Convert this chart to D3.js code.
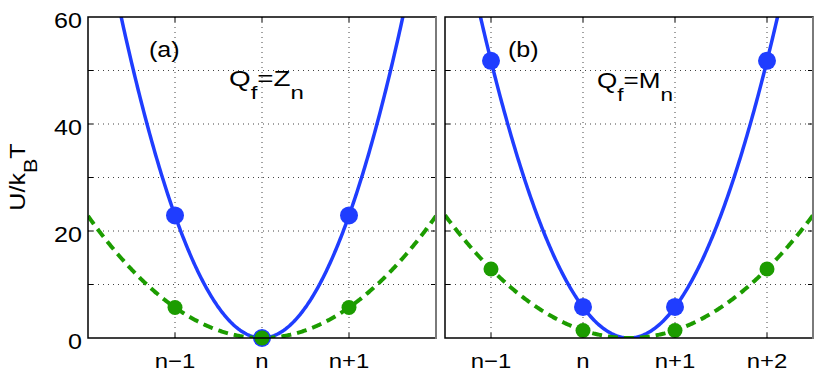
<!DOCTYPE html>
<html>
<head>
<meta charset="utf-8">
<script src="https://cdn.jsdelivr.net/npm/d3@7"></script>
<style>
  body { margin: 0; background: #fff; }
  svg text { font-family: "Liberation Sans", Arial, sans-serif; fill: #000; }
  .grid line { stroke: #444; stroke-width: 1; stroke-dasharray: 1,4; }
</style>
</head>
<body>
<div id="chart"></div>
<script>
// panel (a): Q_f = Z_n
var ticksA = [-1, 0, 1];
var labelsA = ["n\u22121", "n", "n+1"];
var blueA = [22.9, 0, 22.9];
var greenA = [5.7, 0, 5.7];
var centerA = 0;

// panel (b): Q_f = M_n
var ticksB = [-1, 0, 1, 2];
var labelsB = ["n\u22121", "n", "n+1", "n+2"];
var blueB = [51.8, 5.8, 5.8, 51.8];
var greenB = [12.9, 1.4, 1.4, 12.9];
var centerB = 0.5;

var yTicks = [0, 20, 40, 60];
var yGrid = [10, 20, 30, 40, 50];

var blue = "#1f3dff", green = "#1c9c00";
var stretch = 1.14; // the original text is a bit wider than Liberation Sans

const svg = d3.select("#chart").append("svg")
    .attr("width", 830).attr("height", 379);

const plotTop = 17, plotBottom = 338;
const y = d3.scaleLinear().domain([0, 60]).range([plotBottom, plotTop]);

// put text at (x, y) and widen it horizontally around its anchor
function place(sel, fx, fy) {
    sel.attr("transform", function (d, i) {
        return "translate(" + fx(d, i) + "," + fy(d, i) + ") scale(" + stretch + ",1)";
    });
}

// subscripted label like Q_f=Z_n, fitted to a given width
function subText(parent, parts, x0, base, width, size, subSize, drop) {
    const t = parent.append("text").attr("font-size", size);
    var down = false;
    parts.forEach(function (p) {
        var s = t.append("tspan").text(p[0]);
        if (p[1] && !down) { s.attr("dy", drop).attr("font-size", subSize); down = true; }
        else if (p[1]) { s.attr("font-size", subSize); }
        else if (down) { s.attr("dy", -drop); down = false; }
    });
    const w = t.node().getBBox().width;
    t.attr("transform", "translate(" + x0 + "," + base + ") scale(" + (width / w) + ",1)");
    return t;
}

function drawPanel(id, left, right, xDomain, ticks, labels, blueVals, greenVals, center, tag, tagX, qParts, qX, qY, qW, showY) {
    const x = d3.scaleLinear().domain(xDomain).range([left, right]);
    const g = svg.append("g");

    g.append("clipPath").attr("id", "clip-" + id)
        .append("rect").attr("x", left).attr("y", plotTop)
        .attr("width", right - left).attr("height", plotBottom - plotTop);

    // grid
    const grid = g.append("g").attr("class", "grid");
    grid.selectAll(".h").data(yGrid).enter().append("line")
        .attr("x1", left).attr("x2", right)
        .attr("y1", d => y(d)).attr("y2", d => y(d));
    grid.selectAll(".v").data(ticks).enter().append("line")
        .attr("x1", d => x(d)).attr("x2", d => x(d))
        .attr("y1", plotTop).attr("y2", plotBottom);

    // small inward ticks
    const tk = g.append("g").attr("stroke", "#000").attr("stroke-width", 1);
    yGrid.forEach(function (v) {
        tk.append("line").attr("x1", left).attr("x2", left + 5).attr("y1", y(v)).attr("y2", y(v));
        tk.append("line").attr("x1", right - 5).attr("x2", right).attr("y1", y(v)).attr("y2", y(v));
    });
    ticks.forEach(function (v) {
        tk.append("line").attr("x1", x(v)).attr("x2", x(v)).attr("y1", plotBottom).attr("y2", plotBottom - 5);
        tk.append("line").attr("x1", x(v)).attr("x2", x(v)).attr("y1", plotTop).attr("y2", plotTop + 5);
    });

    // curves: parabolas through the dots, stiffness taken from the outer dot
    const kBlue = blueVals[0] / Math.pow(ticks[0] - center, 2);
    const kGreen = greenVals[0] / Math.pow(ticks[0] - center, 2);
    const xs = d3.range(xDomain[0], xDomain[1] + 0.001, 0.01);
    const line = d3.line().x(d => x(d[0])).y(d => y(d[1]));

    const plot = g.append("g").attr("clip-path", "url(#clip-" + id + ")");
    plot.append("path")
        .datum(xs.map(v => [v, kBlue * (v - center) * (v - center)]))
        .attr("d", line).attr("fill", "none")
        .attr("stroke", blue).attr("stroke-width", 3.5);
    plot.append("path")
        .datum(xs.map(v => [v, kGreen * (v - center) * (v - center)]))
        .attr("d", line).attr("fill", "none")
        .attr("stroke", green).attr("stroke-width", 4)
        .attr("stroke-dasharray", "10,6");

    g.selectAll(".bdot").data(blueVals).enter().append("circle")
        .attr("cx", (d, i) => x(ticks[i])).attr("cy", d => y(d))
        .attr("r", 9).attr("fill", blue);
    g.selectAll(".gdot").data(greenVals).enter().append("circle")
        .attr("cx", (d, i) => x(ticks[i])).attr("cy", d => y(d))
        .attr("r", 7.5).attr("fill", green);

    // frame
    g.append("rect").attr("x", left).attr("y", plotTop)
        .attr("width", right - left).attr("height", plotBottom - plotTop)
        .attr("fill", "none").attr("stroke", "#000").attr("stroke-width", 1.5);
    g.append("line").attr("x1", right).attr("x2", right).attr("y1", plotTop).attr("y2", plotBottom + 1)
        .attr("stroke", "#7a7a7a").attr("stroke-width", 2);

    // x labels
    g.selectAll(".xl").data(labels).enter().append("text")
        .attr("text-anchor", "middle").attr("font-size", 21)
        .text(d => d)
        .call(place, (d, i) => x(ticks[i]), () => 368);

    if (showY) {
        g.selectAll(".yl").data(yTicks).enter().append("text")
            .attr("text-anchor", "end").attr("font-size", 22)
            .text(d => d)
            .call(place, () => left - 6, d => y(d) + 11);
    }

    g.append("text").datum(tag).attr("font-size", 22).text(tag)
        .call(place, () => tagX, () => 57);

    subText(g, qParts, qX, qY, qW, 22, 19, 13);
}

drawPanel("a", 88, 436, [-2, 2], ticksA, labelsA, blueA, greenA, centerA, "(a)", 149,
    [["Q"], ["f", 1], ["=Z"], ["n", 1]], 229, 86, 75, true);
drawPanel("b", 445, 813, [-1.5, 2.5], ticksB, labelsB, blueB, greenB, centerB, "(b)", 508,
    [["Q"], ["f", 1], ["=M"], ["n", 1]], 597, 88, 76, false);

// y axis title
const yt = svg.append("text")
    .attr("transform", "translate(25,177) rotate(-90) scale(" + stretch + ",1)")
    .attr("text-anchor", "middle").attr("font-size", 22);
yt.append("tspan").text("U/k");
yt.append("tspan").attr("dy", 12).attr("font-size", 19).text("B");
yt.append("tspan").attr("dy", -12).text("T");
</script>
</body>
</html>
